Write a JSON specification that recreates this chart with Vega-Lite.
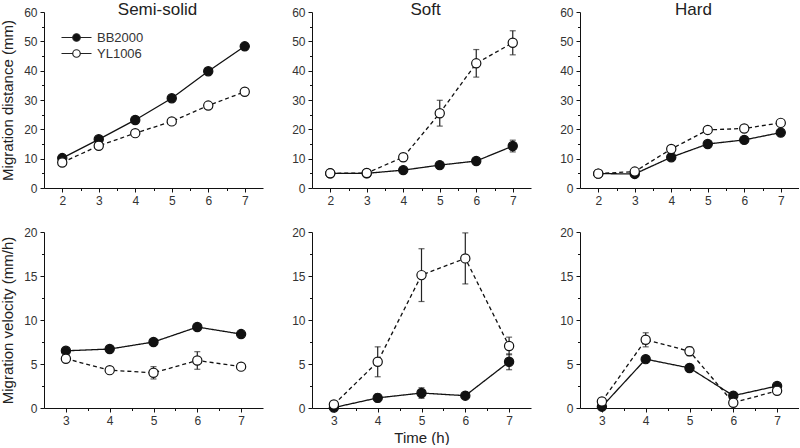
{
  "$schema": "https://vega.github.io/schema/vega-lite/v6.json",
  "padding": {"left": 0, "top": 1, "right": 0, "bottom": 0},
  "background": "white",
  "datasets": {
    "d": [
      {"p": "sd", "s": "BB2000", "t": 2, "v": 10.2, "lo": 9.8, "hi": 10.6},
      {"p": "sd", "s": "BB2000", "t": 3, "v": 16.6, "lo": 16.1, "hi": 17.1},
      {"p": "sd", "s": "BB2000", "t": 4, "v": 23.2, "lo": 22.7, "hi": 23.7},
      {"p": "sd", "s": "BB2000", "t": 5, "v": 30.6, "lo": 30.0, "hi": 31.2},
      {"p": "sd", "s": "BB2000", "t": 6, "v": 39.8, "lo": 39.2, "hi": 40.4},
      {"p": "sd", "s": "BB2000", "t": 7, "v": 48.3, "lo": 47.7, "hi": 48.9},
      {"p": "sd", "s": "YL1006", "t": 2, "v": 8.7, "lo": 7.7, "hi": 9.7},
      {"p": "sd", "s": "YL1006", "t": 3, "v": 14.4, "lo": 13.2, "hi": 15.6},
      {"p": "sd", "s": "YL1006", "t": 4, "v": 18.7, "lo": 17.8, "hi": 19.6},
      {"p": "sd", "s": "YL1006", "t": 5, "v": 22.7, "lo": 21.9, "hi": 23.5},
      {"p": "sd", "s": "YL1006", "t": 6, "v": 28.1, "lo": 27.1, "hi": 29.1},
      {"p": "sd", "s": "YL1006", "t": 7, "v": 32.8, "lo": 31.9, "hi": 33.7},
      {"p": "fd", "s": "BB2000", "t": 2, "v": 5.0, "lo": 4.6, "hi": 5.4},
      {"p": "fd", "s": "BB2000", "t": 3, "v": 5.0, "lo": 4.6, "hi": 5.4},
      {"p": "fd", "s": "BB2000", "t": 4, "v": 6.1, "lo": 5.6, "hi": 6.6},
      {"p": "fd", "s": "BB2000", "t": 5, "v": 7.8, "lo": 7.2, "hi": 8.4},
      {"p": "fd", "s": "BB2000", "t": 6, "v": 9.2, "lo": 8.4, "hi": 10.0},
      {"p": "fd", "s": "BB2000", "t": 7, "v": 14.3, "lo": 12.3, "hi": 16.3},
      {"p": "fd", "s": "YL1006", "t": 2, "v": 5.0, "lo": 4.1, "hi": 5.9},
      {"p": "fd", "s": "YL1006", "t": 3, "v": 5.1, "lo": 4.2, "hi": 6.0},
      {"p": "fd", "s": "YL1006", "t": 4, "v": 10.5, "lo": 9.2, "hi": 11.8},
      {"p": "fd", "s": "YL1006", "t": 5, "v": 25.5, "lo": 21.1, "hi": 29.9},
      {"p": "fd", "s": "YL1006", "t": 6, "v": 42.5, "lo": 37.8, "hi": 47.2},
      {"p": "fd", "s": "YL1006", "t": 7, "v": 49.5, "lo": 45.4, "hi": 53.6},
      {"p": "hd", "s": "BB2000", "t": 2, "v": 4.9, "lo": 4.5, "hi": 5.3},
      {"p": "hd", "s": "BB2000", "t": 3, "v": 4.8, "lo": 4.4, "hi": 5.2},
      {"p": "hd", "s": "BB2000", "t": 4, "v": 10.5, "lo": 9.9, "hi": 11.1},
      {"p": "hd", "s": "BB2000", "t": 5, "v": 15.0, "lo": 14.4, "hi": 15.6},
      {"p": "hd", "s": "BB2000", "t": 6, "v": 16.4, "lo": 15.8, "hi": 17.0},
      {"p": "hd", "s": "BB2000", "t": 7, "v": 18.9, "lo": 18.2, "hi": 19.6},
      {"p": "hd", "s": "YL1006", "t": 2, "v": 4.9, "lo": 4.0, "hi": 5.8},
      {"p": "hd", "s": "YL1006", "t": 3, "v": 5.6, "lo": 4.7, "hi": 6.5},
      {"p": "hd", "s": "YL1006", "t": 4, "v": 13.3, "lo": 12.2, "hi": 14.4},
      {"p": "hd", "s": "YL1006", "t": 5, "v": 19.8, "lo": 18.7, "hi": 20.9},
      {"p": "hd", "s": "YL1006", "t": 6, "v": 20.3, "lo": 19.3, "hi": 21.3},
      {"p": "hd", "s": "YL1006", "t": 7, "v": 22.2, "lo": 21.1, "hi": 23.3},
      {"p": "sv", "s": "BB2000", "t": 3, "v": 6.5, "lo": 6.3, "hi": 6.7},
      {"p": "sv", "s": "BB2000", "t": 4, "v": 6.7, "lo": 6.5, "hi": 6.9},
      {"p": "sv", "s": "BB2000", "t": 5, "v": 7.5, "lo": 7.3, "hi": 7.7},
      {"p": "sv", "s": "BB2000", "t": 6, "v": 9.2, "lo": 9.0, "hi": 9.4},
      {"p": "sv", "s": "BB2000", "t": 7, "v": 8.4, "lo": 8.2, "hi": 8.6},
      {"p": "sv", "s": "YL1006", "t": 3, "v": 5.6, "lo": 5.3, "hi": 5.9},
      {"p": "sv", "s": "YL1006", "t": 4, "v": 4.3, "lo": 4.0, "hi": 4.6},
      {"p": "sv", "s": "YL1006", "t": 5, "v": 4.0, "lo": 3.3, "hi": 4.7},
      {"p": "sv", "s": "YL1006", "t": 6, "v": 5.4, "lo": 4.4, "hi": 6.4},
      {"p": "sv", "s": "YL1006", "t": 7, "v": 4.7, "lo": 4.5, "hi": 4.9},
      {"p": "fv", "s": "BB2000", "t": 3, "v": 0.05, "lo": 0.0, "hi": 0.15},
      {"p": "fv", "s": "BB2000", "t": 4, "v": 1.15, "lo": 0.7, "hi": 1.6},
      {"p": "fv", "s": "BB2000", "t": 5, "v": 1.7, "lo": 1.1, "hi": 2.3},
      {"p": "fv", "s": "BB2000", "t": 6, "v": 1.4, "lo": 1.2, "hi": 1.6},
      {"p": "fv", "s": "BB2000", "t": 7, "v": 5.25, "lo": 4.35, "hi": 6.15},
      {"p": "fv", "s": "YL1006", "t": 3, "v": 0.4, "lo": 0.1, "hi": 0.7},
      {"p": "fv", "s": "YL1006", "t": 4, "v": 5.25, "lo": 3.55, "hi": 6.95},
      {"p": "fv", "s": "YL1006", "t": 5, "v": 15.1, "lo": 12.1, "hi": 18.1},
      {"p": "fv", "s": "YL1006", "t": 6, "v": 17.0, "lo": 14.1, "hi": 19.9},
      {"p": "fv", "s": "YL1006", "t": 7, "v": 7.05, "lo": 6.05, "hi": 8.05},
      {"p": "hv", "s": "BB2000", "t": 3, "v": 0.15, "lo": 0.05, "hi": 0.25},
      {"p": "hv", "s": "BB2000", "t": 4, "v": 5.55, "lo": 5.25, "hi": 5.85},
      {"p": "hv", "s": "BB2000", "t": 5, "v": 4.55, "lo": 4.15, "hi": 4.95},
      {"p": "hv", "s": "BB2000", "t": 6, "v": 1.4, "lo": 1.2, "hi": 1.6},
      {"p": "hv", "s": "BB2000", "t": 7, "v": 2.5, "lo": 2.3, "hi": 2.7},
      {"p": "hv", "s": "YL1006", "t": 3, "v": 0.75, "lo": 0.45, "hi": 1.05},
      {"p": "hv", "s": "YL1006", "t": 4, "v": 7.75, "lo": 6.95, "hi": 8.55},
      {"p": "hv", "s": "YL1006", "t": 5, "v": 6.45, "lo": 5.95, "hi": 6.95},
      {"p": "hv", "s": "YL1006", "t": 6, "v": 0.6, "lo": 0.4, "hi": 0.8},
      {"p": "hv", "s": "YL1006", "t": 7, "v": 1.95, "lo": 1.65, "hi": 2.25}
    ]
  },
  "columns": 3,
  "spacing": {"row": 44, "column": 49},
  "bounds": "flush",
  "resolve": {"scale": {"fill": "independent", "strokeDash": "independent"}, "legend": {"fill": "independent", "strokeDash": "independent"}},
  "concat": [
    {
      "width": 219, "height": 176,
      "data": {"name": "d"},
      "transform": [{"filter": "datum.p === 'sd'"}],
      "title": {"text": "Semi-solid", "fontSize": 17, "fontWeight": "normal", "font": "Liberation Sans", "color": "#222", "anchor": "middle", "frame": "group", "baseline": "alphabetic", "offset": -26, "dx": 4},
      "encoding": {"x": {"field": "t", "type": "quantitative", "scale": {"domain": [1.5, 7.5], "nice": false, "zero": false}, "axis": {"title": null, "values": [2, 2.5, 3, 3.5, 4, 4.5, 5, 5.5, 6, 6.5, 7], "labelExpr": "datum.value % 1 === 0 ? format(datum.value, 'd') : ''", "tickSize": {"condition": {"test": "datum.value % 1 === 0", "value": 4}, "value": 2.5}}}},
      "layer": [
        {"mark": {"type": "errorbar", "color": "#222", "thickness": 1.2, "ticks": {"size": 6, "thickness": 1.2, "color": "#222"}},
         "encoding": {"y": {"field": "lo", "type": "quantitative", "scale": {"domain": [0, 60], "nice": false}, "axis": {"title": "Migration distance (mm)", "titleFontSize": 15, "titlePadding": 8, "values": [0, 5, 10, 15, 20, 25, 30, 35, 40, 45, 50, 55, 60], "labelExpr": "datum.value % 10 === 0 ? format(datum.value, 'd') : ''", "tickSize": {"condition": {"test": "datum.value % 10 === 0", "value": 4}, "value": 2.5}}}, "y2": {"field": "hi"}}},
        {"transform": [{"filter": "datum.s === 'BB2000'"}],
         "mark": {"type": "line", "strokeWidth": 1.3, "color": "#111"},
         "encoding": {"y": {"field": "v", "type": "quantitative", "scale": {"domain": [0, 60], "nice": false}, "axis": {"title": "Migration distance (mm)", "titleFontSize": 15, "titlePadding": 8, "values": [0, 5, 10, 15, 20, 25, 30, 35, 40, 45, 50, 55, 60], "labelExpr": "datum.value % 10 === 0 ? format(datum.value, 'd') : ''", "tickSize": {"condition": {"test": "datum.value % 10 === 0", "value": 4}, "value": 2.5}}}}},
        {"transform": [{"filter": "datum.s === 'YL1006'"}],
         "mark": {"type": "line", "strokeWidth": 1.3, "color": "#111", "strokeDash": [4, 3]},
         "encoding": {"y": {"field": "v", "type": "quantitative", "scale": {"domain": [0, 60], "nice": false}, "axis": {"title": "Migration distance (mm)", "titleFontSize": 15, "titlePadding": 8, "values": [0, 5, 10, 15, 20, 25, 30, 35, 40, 45, 50, 55, 60], "labelExpr": "datum.value % 10 === 0 ? format(datum.value, 'd') : ''", "tickSize": {"condition": {"test": "datum.value % 10 === 0", "value": 4}, "value": 2.5}}}}},
        {"mark": {"type": "point", "shape": "circle", "size": 85, "filled": true, "stroke": "#111", "strokeWidth": 1.2, "opacity": 1},
         "encoding": {"y": {"field": "v", "type": "quantitative", "scale": {"domain": [0, 60], "nice": false}, "axis": {"title": "Migration distance (mm)", "titleFontSize": 15, "titlePadding": 8, "values": [0, 5, 10, 15, 20, 25, 30, 35, 40, 45, 50, 55, 60], "labelExpr": "datum.value % 10 === 0 ? format(datum.value, 'd') : ''", "tickSize": {"condition": {"test": "datum.value % 10 === 0", "value": 4}, "value": 2.5}}}, "fill": {"field": "s", "type": "nominal", "scale": {"domain": ["BB2000", "YL1006"], "range": ["#111", "#ffffff"]},
           "legend": {"orient": "none", "legendX": 26, "legendY": 19, "title": null, "padding": 0, "symbolSize": 100, "symbolStrokeColor": "#222", "symbolStrokeWidth": 1.2, "labelFontSize": 13, "labelColor": "#333", "labelFont": "Liberation Sans", "labelOffset": 14, "rowPadding": 2,
             "symbolType": "M-3,0L-0.75,0M0.75,0L3,0M0.75,0A0.75,0.75,0,1,1,-0.75,0A0.75,0.75,0,1,1,0.75,0Z"}}}}
      ]
    },
    {
      "width": 219, "height": 176,
      "data": {"name": "d"},
      "transform": [{"filter": "datum.p === 'fd'"}],
      "title": {"text": "Soft", "fontSize": 17, "fontWeight": "normal", "font": "Liberation Sans", "color": "#222", "anchor": "middle", "frame": "group", "baseline": "alphabetic", "offset": -26, "dx": 4},
      "encoding": {"x": {"field": "t", "type": "quantitative", "scale": {"domain": [1.5, 7.5], "nice": false, "zero": false}, "axis": {"title": null, "values": [2, 2.5, 3, 3.5, 4, 4.5, 5, 5.5, 6, 6.5, 7], "labelExpr": "datum.value % 1 === 0 ? format(datum.value, 'd') : ''", "tickSize": {"condition": {"test": "datum.value % 1 === 0", "value": 4}, "value": 2.5}}}},
      "layer": [
        {"mark": {"type": "errorbar", "color": "#222", "thickness": 1.2, "ticks": {"size": 6, "thickness": 1.2, "color": "#222"}},
         "encoding": {"y": {"field": "lo", "type": "quantitative", "scale": {"domain": [0, 60], "nice": false}, "axis": {"title": null, "values": [0, 5, 10, 15, 20, 25, 30, 35, 40, 45, 50, 55, 60], "labelExpr": "datum.value % 10 === 0 ? format(datum.value, 'd') : ''", "tickSize": {"condition": {"test": "datum.value % 10 === 0", "value": 4}, "value": 2.5}}}, "y2": {"field": "hi"}}},
        {"mark": {"type": "line", "strokeWidth": 1.3, "color": "#111"},
         "encoding": {"y": {"field": "v", "type": "quantitative", "scale": {"domain": [0, 60], "nice": false}, "axis": {"title": null, "values": [0, 5, 10, 15, 20, 25, 30, 35, 40, 45, 50, 55, 60], "labelExpr": "datum.value % 10 === 0 ? format(datum.value, 'd') : ''", "tickSize": {"condition": {"test": "datum.value % 10 === 0", "value": 4}, "value": 2.5}}}, "strokeDash": {"field": "s", "type": "nominal", "scale": {"domain": ["BB2000", "YL1006"], "range": [[1, 0], [4, 3]]}, "legend": null}}},
        {"mark": {"type": "point", "shape": "circle", "size": 85, "filled": true, "stroke": "#111", "strokeWidth": 1.2, "opacity": 1},
         "encoding": {"y": {"field": "v", "type": "quantitative", "scale": {"domain": [0, 60], "nice": false}, "axis": {"title": null, "values": [0, 5, 10, 15, 20, 25, 30, 35, 40, 45, 50, 55, 60], "labelExpr": "datum.value % 10 === 0 ? format(datum.value, 'd') : ''", "tickSize": {"condition": {"test": "datum.value % 10 === 0", "value": 4}, "value": 2.5}}}, "fill": {"field": "s", "type": "nominal", "scale": {"domain": ["BB2000", "YL1006"], "range": ["#111", "#ffffff"]}, "legend": null}}}
      ]
    },
    {
      "width": 219, "height": 176,
      "data": {"name": "d"},
      "transform": [{"filter": "datum.p === 'hd'"}],
      "title": {"text": "Hard", "fontSize": 17, "fontWeight": "normal", "font": "Liberation Sans", "color": "#222", "anchor": "middle", "frame": "group", "baseline": "alphabetic", "offset": -26, "dx": 4},
      "encoding": {"x": {"field": "t", "type": "quantitative", "scale": {"domain": [1.5, 7.5], "nice": false, "zero": false}, "axis": {"title": null, "values": [2, 2.5, 3, 3.5, 4, 4.5, 5, 5.5, 6, 6.5, 7], "labelExpr": "datum.value % 1 === 0 ? format(datum.value, 'd') : ''", "tickSize": {"condition": {"test": "datum.value % 1 === 0", "value": 4}, "value": 2.5}}}},
      "layer": [
        {"mark": {"type": "errorbar", "color": "#222", "thickness": 1.2, "ticks": {"size": 6, "thickness": 1.2, "color": "#222"}},
         "encoding": {"y": {"field": "lo", "type": "quantitative", "scale": {"domain": [0, 60], "nice": false}, "axis": {"title": null, "values": [0, 5, 10, 15, 20, 25, 30, 35, 40, 45, 50, 55, 60], "labelExpr": "datum.value % 10 === 0 ? format(datum.value, 'd') : ''", "tickSize": {"condition": {"test": "datum.value % 10 === 0", "value": 4}, "value": 2.5}}}, "y2": {"field": "hi"}}},
        {"mark": {"type": "line", "strokeWidth": 1.3, "color": "#111"},
         "encoding": {"y": {"field": "v", "type": "quantitative", "scale": {"domain": [0, 60], "nice": false}, "axis": {"title": null, "values": [0, 5, 10, 15, 20, 25, 30, 35, 40, 45, 50, 55, 60], "labelExpr": "datum.value % 10 === 0 ? format(datum.value, 'd') : ''", "tickSize": {"condition": {"test": "datum.value % 10 === 0", "value": 4}, "value": 2.5}}}, "strokeDash": {"field": "s", "type": "nominal", "scale": {"domain": ["BB2000", "YL1006"], "range": [[1, 0], [4, 3]]}, "legend": null}}},
        {"mark": {"type": "point", "shape": "circle", "size": 85, "filled": true, "stroke": "#111", "strokeWidth": 1.2, "opacity": 1},
         "encoding": {"y": {"field": "v", "type": "quantitative", "scale": {"domain": [0, 60], "nice": false}, "axis": {"title": null, "values": [0, 5, 10, 15, 20, 25, 30, 35, 40, 45, 50, 55, 60], "labelExpr": "datum.value % 10 === 0 ? format(datum.value, 'd') : ''", "tickSize": {"condition": {"test": "datum.value % 10 === 0", "value": 4}, "value": 2.5}}}, "fill": {"field": "s", "type": "nominal", "scale": {"domain": ["BB2000", "YL1006"], "range": ["#111", "#ffffff"]}, "legend": null}}}
      ]
    },
    {
      "width": 219, "height": 176,
      "data": {"name": "d"},
      "transform": [{"filter": "datum.p === 'sv'"}],
      "encoding": {"x": {"field": "t", "type": "quantitative", "scale": {"domain": [2.5, 7.5], "nice": false, "zero": false}, "axis": {"title": null, "values": [3, 3.5, 4, 4.5, 5, 5.5, 6, 6.5, 7], "labelExpr": "datum.value % 1 === 0 ? format(datum.value, 'd') : ''", "tickSize": {"condition": {"test": "datum.value % 1 === 0", "value": 4}, "value": 2.5}}}},
      "layer": [
        {"mark": {"type": "errorbar", "color": "#222", "thickness": 1.2, "ticks": {"size": 6, "thickness": 1.2, "color": "#222"}},
         "encoding": {"y": {"field": "lo", "type": "quantitative", "scale": {"domain": [0, 20], "nice": false}, "axis": {"title": "Migration velocity (mm/h)", "titleFontSize": 15, "titlePadding": 8, "values": [0, 2.5, 5, 7.5, 10, 12.5, 15, 17.5, 20], "labelExpr": "datum.value % 5 === 0 ? format(datum.value, 'd') : ''", "tickSize": {"condition": {"test": "datum.value % 5 === 0", "value": 4}, "value": 2.5}}}, "y2": {"field": "hi"}}},
        {"mark": {"type": "line", "strokeWidth": 1.3, "color": "#111"},
         "encoding": {"y": {"field": "v", "type": "quantitative", "scale": {"domain": [0, 20], "nice": false}, "axis": {"title": "Migration velocity (mm/h)", "titleFontSize": 15, "titlePadding": 8, "values": [0, 2.5, 5, 7.5, 10, 12.5, 15, 17.5, 20], "labelExpr": "datum.value % 5 === 0 ? format(datum.value, 'd') : ''", "tickSize": {"condition": {"test": "datum.value % 5 === 0", "value": 4}, "value": 2.5}}}, "strokeDash": {"field": "s", "type": "nominal", "scale": {"domain": ["BB2000", "YL1006"], "range": [[1, 0], [4, 3]]}, "legend": null}}},
        {"mark": {"type": "point", "shape": "circle", "size": 85, "filled": true, "stroke": "#111", "strokeWidth": 1.2, "opacity": 1},
         "encoding": {"y": {"field": "v", "type": "quantitative", "scale": {"domain": [0, 20], "nice": false}, "axis": {"title": "Migration velocity (mm/h)", "titleFontSize": 15, "titlePadding": 8, "values": [0, 2.5, 5, 7.5, 10, 12.5, 15, 17.5, 20], "labelExpr": "datum.value % 5 === 0 ? format(datum.value, 'd') : ''", "tickSize": {"condition": {"test": "datum.value % 5 === 0", "value": 4}, "value": 2.5}}}, "fill": {"field": "s", "type": "nominal", "scale": {"domain": ["BB2000", "YL1006"], "range": ["#111", "#ffffff"]}, "legend": null}}}
      ]
    },
    {
      "width": 219, "height": 176,
      "data": {"name": "d"},
      "transform": [{"filter": "datum.p === 'fv'"}],
      "encoding": {"x": {"field": "t", "type": "quantitative", "scale": {"domain": [2.5, 7.5], "nice": false, "zero": false}, "axis": {"title": "Time (h)", "titleFontSize": 15, "titlePadding": 4, "values": [3, 3.5, 4, 4.5, 5, 5.5, 6, 6.5, 7], "labelExpr": "datum.value % 1 === 0 ? format(datum.value, 'd') : ''", "tickSize": {"condition": {"test": "datum.value % 1 === 0", "value": 4}, "value": 2.5}}}},
      "layer": [
        {"mark": {"type": "errorbar", "color": "#222", "thickness": 1.2, "ticks": {"size": 6, "thickness": 1.2, "color": "#222"}},
         "encoding": {"y": {"field": "lo", "type": "quantitative", "scale": {"domain": [0, 20], "nice": false}, "axis": {"title": null, "values": [0, 2.5, 5, 7.5, 10, 12.5, 15, 17.5, 20], "labelExpr": "datum.value % 5 === 0 ? format(datum.value, 'd') : ''", "tickSize": {"condition": {"test": "datum.value % 5 === 0", "value": 4}, "value": 2.5}}}, "y2": {"field": "hi"}}},
        {"mark": {"type": "line", "strokeWidth": 1.3, "color": "#111"},
         "encoding": {"y": {"field": "v", "type": "quantitative", "scale": {"domain": [0, 20], "nice": false}, "axis": {"title": null, "values": [0, 2.5, 5, 7.5, 10, 12.5, 15, 17.5, 20], "labelExpr": "datum.value % 5 === 0 ? format(datum.value, 'd') : ''", "tickSize": {"condition": {"test": "datum.value % 5 === 0", "value": 4}, "value": 2.5}}}, "strokeDash": {"field": "s", "type": "nominal", "scale": {"domain": ["BB2000", "YL1006"], "range": [[1, 0], [4, 3]]}, "legend": null}}},
        {"mark": {"type": "point", "shape": "circle", "size": 85, "filled": true, "stroke": "#111", "strokeWidth": 1.2, "opacity": 1},
         "encoding": {"y": {"field": "v", "type": "quantitative", "scale": {"domain": [0, 20], "nice": false}, "axis": {"title": null, "values": [0, 2.5, 5, 7.5, 10, 12.5, 15, 17.5, 20], "labelExpr": "datum.value % 5 === 0 ? format(datum.value, 'd') : ''", "tickSize": {"condition": {"test": "datum.value % 5 === 0", "value": 4}, "value": 2.5}}}, "fill": {"field": "s", "type": "nominal", "scale": {"domain": ["BB2000", "YL1006"], "range": ["#111", "#ffffff"]}, "legend": null}}}
      ]
    },
    {
      "width": 219, "height": 176,
      "data": {"name": "d"},
      "transform": [{"filter": "datum.p === 'hv'"}],
      "encoding": {"x": {"field": "t", "type": "quantitative", "scale": {"domain": [2.5, 7.5], "nice": false, "zero": false}, "axis": {"title": null, "values": [3, 3.5, 4, 4.5, 5, 5.5, 6, 6.5, 7], "labelExpr": "datum.value % 1 === 0 ? format(datum.value, 'd') : ''", "tickSize": {"condition": {"test": "datum.value % 1 === 0", "value": 4}, "value": 2.5}}}},
      "layer": [
        {"mark": {"type": "errorbar", "color": "#222", "thickness": 1.2, "ticks": {"size": 6, "thickness": 1.2, "color": "#222"}},
         "encoding": {"y": {"field": "lo", "type": "quantitative", "scale": {"domain": [0, 20], "nice": false}, "axis": {"title": null, "values": [0, 2.5, 5, 7.5, 10, 12.5, 15, 17.5, 20], "labelExpr": "datum.value % 5 === 0 ? format(datum.value, 'd') : ''", "tickSize": {"condition": {"test": "datum.value % 5 === 0", "value": 4}, "value": 2.5}}}, "y2": {"field": "hi"}}},
        {"mark": {"type": "line", "strokeWidth": 1.3, "color": "#111"},
         "encoding": {"y": {"field": "v", "type": "quantitative", "scale": {"domain": [0, 20], "nice": false}, "axis": {"title": null, "values": [0, 2.5, 5, 7.5, 10, 12.5, 15, 17.5, 20], "labelExpr": "datum.value % 5 === 0 ? format(datum.value, 'd') : ''", "tickSize": {"condition": {"test": "datum.value % 5 === 0", "value": 4}, "value": 2.5}}}, "strokeDash": {"field": "s", "type": "nominal", "scale": {"domain": ["BB2000", "YL1006"], "range": [[1, 0], [4, 3]]}, "legend": null}}},
        {"mark": {"type": "point", "shape": "circle", "size": 85, "filled": true, "stroke": "#111", "strokeWidth": 1.2, "opacity": 1},
         "encoding": {"y": {"field": "v", "type": "quantitative", "scale": {"domain": [0, 20], "nice": false}, "axis": {"title": null, "values": [0, 2.5, 5, 7.5, 10, 12.5, 15, 17.5, 20], "labelExpr": "datum.value % 5 === 0 ? format(datum.value, 'd') : ''", "tickSize": {"condition": {"test": "datum.value % 5 === 0", "value": 4}, "value": 2.5}}}, "fill": {"field": "s", "type": "nominal", "scale": {"domain": ["BB2000", "YL1006"], "range": ["#111", "#ffffff"]}, "legend": null}}}
      ]
    }
  ],
  "config": {
    "view": {"stroke": null},
    "font": "Liberation Sans",
    "axis": {"grid": false, "domainColor": "#111", "tickColor": "#111", "labelColor": "#333", "labelFontSize": 12, "labelFont": "Liberation Sans", "titleFont": "Liberation Sans", "titleFontWeight": "normal", "titleColor": "#222", "labelOverlap": false, "labelPadding": 3, "labelFlush": false, "domainWidth": 1, "tickWidth": 1}
  }
}
